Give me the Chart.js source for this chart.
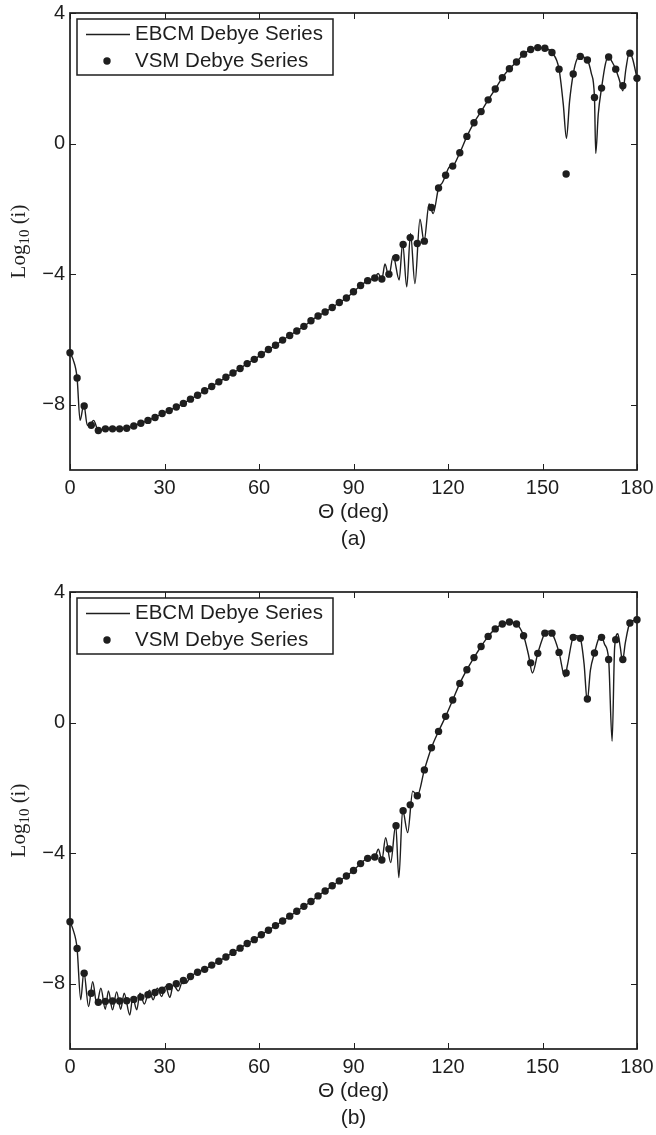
<!DOCTYPE html>
<html>
<head>
<meta charset="utf-8">
<script src="https://cdn.jsdelivr.net/npm/chart.js@4.4.1/dist/chart.umd.min.js"></script>
<style>
  body { margin: 0; background: #fff; width: 656px; height: 1135px; position: relative; overflow: hidden; }
  canvas { position: absolute; left: 0; }
  #chartA { top: 0; }
  #chartB { top: 579px; }
</style>
</head>
<body>
<canvas id="chartA" width="656" height="570"></canvas>
<canvas id="chartB" width="656" height="556"></canvas>
<script>
// labels
const seriesNames = ['EBCM Debye Series', 'VSM Debye Series'];
const xLabel = 'Θ (deg)';
const panelNames = ['(a)', '(b)'];

// tick labels
const thetaTicks = [0, 30, 60, 90, 120, 150, 180];
const logTicks = [-8, -4, 0, 4];

// VSM sample angles (deg), shared by both panels
const vsmTheta = [0, 2.25, 4.5, 6.75, 9, 11.25, 13.5, 15.75, 18, 20.25, 22.5, 24.75, 27, 29.25, 31.5, 33.75,
  36, 38.25, 40.5, 42.75, 45, 47.25, 49.5, 51.75, 54, 56.25, 58.5, 60.75, 63, 65.25, 67.5, 69.75,
  72, 74.25, 76.5, 78.75, 81, 83.25, 85.5, 87.75, 90, 92.25, 94.5, 96.75, 99, 101.25, 103.5, 105.75,
  108, 110.25, 112.5, 114.75, 117, 119.25, 121.5, 123.75, 126, 128.25, 130.5, 132.75, 135, 137.25,
  139.5, 141.75, 144, 146.25, 148.5, 150.75, 153, 155.25, 157.5, 159.75, 162, 164.25, 166.5, 168.75,
  171, 173.25, 175.5, 177.75, 180];

// panel (a) VSM points, log10(i)
const vsmA = [-6.41, -7.18, -8.04, -8.63, -8.79, -8.74, -8.74, -8.74, -8.72, -8.65, -8.57, -8.48, -8.39, -8.27, -8.18, -8.07,
  -7.96, -7.83, -7.71, -7.57, -7.44, -7.30, -7.16, -7.03, -6.89, -6.74, -6.61, -6.46, -6.31, -6.18, -6.02, -5.88,
  -5.74, -5.60, -5.43, -5.28, -5.16, -5.02, -4.87, -4.73, -4.54, -4.35, -4.20, -4.12, -4.15, -4.00, -3.50, -3.09,
  -2.88, -3.06, -2.99, -1.96, -1.36, -0.97, -0.69, -0.28, 0.22, 0.64, 0.98, 1.34, 1.67, 2.02,
  2.29, 2.50, 2.74, 2.88, 2.94, 2.92, 2.79, 2.28, -0.93, 2.13, 2.67, 2.56, 1.41, 1.70,
  2.65, 2.28, 1.77, 2.77, 2.00];

// panel (a) EBCM curve
const ebcmThetaA = [0, 1, 2.25, 3.2, 4.4, 5.5, 6.5, 7.5, 9, 11.25, 13.5, 15.75, 18, 20.25, 22.5, 24.75, 27, 29.25,
  31.5, 33.75, 36, 38.25, 40.5, 42.75, 45, 47.25, 49.5, 51.75, 54, 56.25, 58.5, 60.75, 63, 65.25, 67.5, 69.75,
  72, 74.25, 76.5, 78.75, 81, 83.25, 85.5, 87.75, 90, 92.25, 94.5, 96.75, 97.8, 99, 100, 101.2, 102.6, 104.5,
  105.6, 106.9, 108.1, 109.5, 111.1, 112.4, 114, 115.3, 117, 118.2, 119.25, 120.4, 121.5, 123.75, 126, 128.25,
  130.5, 132.75, 135, 137.25, 139.5, 141.75, 144, 146.25, 148.5, 150.75, 153, 155.25, 156.6, 157.6, 158.6, 159.75,
  161, 162, 164.25, 165.5, 166.5, 166.9, 167.7, 168.75, 170, 171, 172.1, 173.25, 174.4, 175.5, 176.5, 177.6, 178.6, 180];
const ebcmA = [-6.41, -6.62, -7.18, -8.48, -7.99, -8.63, -8.60, -8.48, -8.79, -8.74, -8.74, -8.74, -8.72, -8.65, -8.57, -8.48, -8.39, -8.27,
  -8.18, -8.07, -7.96, -7.83, -7.71, -7.57, -7.44, -7.30, -7.16, -7.03, -6.89, -6.74, -6.61, -6.46, -6.31, -6.18, -6.02, -5.88,
  -5.74, -5.60, -5.43, -5.28, -5.16, -5.02, -4.87, -4.73, -4.54, -4.35, -4.20, -4.12, -3.98, -4.15, -3.69, -4.08, -3.44, -4.18,
  -3.05, -4.39, -2.75, -4.29, -2.32, -3.00, -1.85, -2.14, -1.36, -1.20, -0.97, -0.72, -0.69, -0.28, 0.22, 0.64,
  0.98, 1.34, 1.67, 2.02, 2.29, 2.50, 2.74, 2.88, 2.94, 2.92, 2.79, 2.28, 1.20, 0.16, 1.30, 2.13,
  2.60, 2.67, 2.56, 2.15, 1.41, -0.30, 0.90, 1.70, 2.45, 2.67, 2.50, 2.28, 1.95, 1.62, 2.30, 2.80, 2.60, 2.00];

// panel (b) VSM points
const vsmB = [-6.10, -6.92, -7.68, -8.29, -8.57, -8.54, -8.53, -8.53, -8.52, -8.48, -8.41, -8.34, -8.27, -8.20, -8.09, -8.00,
  -7.90, -7.78, -7.65, -7.56, -7.43, -7.31, -7.18, -7.04, -6.91, -6.77, -6.65, -6.50, -6.36, -6.22, -6.08, -5.93,
  -5.78, -5.63, -5.48, -5.31, -5.16, -5.00, -4.85, -4.70, -4.53, -4.32, -4.16, -4.12, -4.21, -3.87, -3.16, -2.70,
  -2.52, -2.24, -1.45, -0.77, -0.27, 0.19, 0.69, 1.20, 1.62, 1.99, 2.33, 2.64, 2.87, 3.02,
  3.08, 3.02, 2.66, 1.83, 2.12, 2.74, 2.74, 2.15, 1.52, 2.61, 2.58, 0.72, 2.13, 2.61,
  1.93, 2.54, 1.93, 3.05, 3.15];

// panel (b) EBCM curve
const ebcmThetaB = [0, 1, 2.25, 3.4, 4.4, 5.9, 7.2, 8.5, 9.8, 11.2, 12.2, 13.5, 14.8, 16.1, 17.2, 19, 19.9, 21.2,
  22.2, 23.6, 25.2, 26.4, 27.7, 29.1, 30.3, 31.7, 32.8, 34.4, 35.8, 36.8, 38.25, 40.5, 42.75, 45, 47.25, 49.5,
  51.75, 54, 56.25, 58.5, 60.75, 63, 65.25, 67.5, 69.75, 72, 74.25, 76.5, 78.75, 81, 83.25, 85.5, 87.75, 90,
  92.25, 94.5, 96.75, 97.9, 99, 100.2, 101.8, 103.4, 104.4, 105.6, 107.2, 108.8, 110.25, 112.5, 114.75, 117,
  119.25, 121.5, 123.75, 126, 128.25, 130.5, 132.75, 135, 137.25, 139.5, 141.75, 144, 145.5, 146.8, 148.5, 150.75,
  151.9, 153, 155.25, 157.1, 157.9, 159.75, 160.9, 162, 163.2, 164.2, 165.2, 166.5, 168, 168.75, 169.7, 171,
  172.1, 172.9, 173.9, 174.7, 175.4, 176.3, 177.75, 180];
const ebcmB = [-6.10, -6.35, -6.92, -8.49, -7.64, -8.70, -7.94, -8.62, -8.14, -8.78, -8.22, -8.80, -8.25, -8.78, -8.29, -8.96, -8.42, -8.80,
  -8.29, -8.62, -8.20, -8.49, -8.14, -8.39, -8.08, -8.42, -8.03, -8.22, -7.91, -7.98, -7.78, -7.65, -7.56, -7.43, -7.31, -7.18,
  -7.04, -6.91, -6.77, -6.65, -6.50, -6.36, -6.22, -6.08, -5.93, -5.78, -5.63, -5.48, -5.31, -5.16, -5.00, -4.85, -4.70, -4.53,
  -4.32, -4.16, -4.12, -3.88, -4.21, -3.53, -4.29, -3.14, -4.75, -2.68, -3.37, -2.10, -2.24, -1.45, -0.77, -0.27,
  0.19, 0.69, 1.20, 1.62, 1.99, 2.33, 2.64, 2.87, 3.02, 3.08, 3.02, 2.66, 2.10, 1.52, 2.12, 2.74,
  2.80, 2.74, 2.15, 1.40, 1.75, 2.61, 2.66, 2.58, 1.80, 0.65, 1.60, 2.13, 2.60, 2.63, 2.40, 1.93,
  -0.57, 2.30, 2.72, 2.30, 1.88, 2.45, 3.05, 3.15];

const ink = '#1e1e1e';
const sans = 'Liberation Sans';

function toPoints(xs, ys) {
  return xs.map((x, i) => ({x: x, y: ys[i]}));
}

// draws the box, the inward ticks, the legend and the y label (matlab look)
const matlabAxes = {
  id: 'matlabAxes',
  afterDraw(chart) {
    const {ctx, chartArea: a, scales: {x, y}} = chart;
    ctx.save();
    ctx.strokeStyle = ink;
    ctx.lineWidth = 1;
    ctx.beginPath();
    x.ticks.forEach(t => {
      const px = Math.round(x.getPixelForValue(t.value)) + 0.5;
      ctx.moveTo(px, a.bottom); ctx.lineTo(px, a.bottom - 6);
      ctx.moveTo(px, a.top); ctx.lineTo(px, a.top + 6);
    });
    y.ticks.forEach(t => {
      const py = Math.round(y.getPixelForValue(t.value)) + 0.5;
      ctx.moveTo(a.left, py); ctx.lineTo(a.left + 6, py);
      ctx.moveTo(a.right, py); ctx.lineTo(a.right - 6, py);
    });
    ctx.stroke();
    ctx.lineWidth = 1.7;
    ctx.strokeRect(a.left, a.top, a.right - a.left, a.bottom - a.top);

    // legend box
    const ds = chart.data.datasets;
    const lx = a.left + 7, ly = a.top + 6;
    ctx.fillStyle = '#fff';
    ctx.fillRect(lx, ly, 256, 56);
    ctx.lineWidth = 1.5;
    ctx.strokeRect(lx, ly, 256, 56);
    const r1 = a.top + 21.5, r2 = a.top + 48;
    ctx.lineWidth = 1.4;
    ctx.beginPath();
    ctx.moveTo(a.left + 16, r1); ctx.lineTo(a.left + 60, r1);
    ctx.stroke();
    ctx.fillStyle = ink;
    ctx.beginPath();
    ctx.arc(a.left + 37, r2, 3.7, 0, Math.PI * 2);
    ctx.fill();
    ctx.font = '20.5px "' + sans + '"';
    ctx.textBaseline = 'middle';
    ctx.textAlign = 'left';
    ctx.fillText(ds[0].label, a.left + 65, r1);
    ctx.fillText(ds[1].label, a.left + 65, r2);

    // y axis label Log10 (i), with subscript
    ctx.translate(18, (a.top + a.bottom) / 2);
    ctx.rotate(-Math.PI / 2);
    ctx.textBaseline = 'alphabetic';
    const big = '21px "Liberation Serif"', small = '15px "Liberation Serif"';
    ctx.font = big;
    const w1 = ctx.measureText('Log').width;
    const w3 = ctx.measureText(' (i)').width;
    ctx.font = small;
    const w2 = ctx.measureText('10').width;
    let sx = -(w1 + w2 + w3) / 2;
    ctx.font = big;
    ctx.fillText('Log', sx, 7);
    ctx.font = small;
    ctx.fillText('10', sx + w1, 11);
    ctx.font = big;
    ctx.fillText(' (i)', sx + w1 + w2, 7);
    ctx.restore();
  }
};

function makeChart(id, panel, lineTheta, lineVals, dotVals, titleGap) {
  const canvas = document.getElementById(id);
  return new Chart(canvas, {
    type: 'scatter',
    data: {
      datasets: [
        {
          label: seriesNames[0],
          data: toPoints(lineTheta, lineVals),
          showLine: true,
          pointRadius: 0,
          borderColor: ink,
          borderWidth: 1.4,
          cubicInterpolationMode: 'monotone',
          order: 1
        },
        {
          label: seriesNames[1],
          data: toPoints(vsmTheta, dotVals),
          showLine: false,
          pointRadius: 3.7,
          backgroundColor: ink,
          borderColor: ink,
          borderWidth: 0,
          clip: false,
          order: 0
        }
      ]
    },
    options: {
      responsive: false,
      animation: false,
      events: [],
      layout: { padding: { top: 13, right: 19, left: 0, bottom: 0 } },
      scales: {
        x: {
          type: 'linear',
          min: 0,
          max: 180,
          afterBuildTicks: s => { s.ticks = thetaTicks.map(v => ({value: v})); },
          afterFit: s => { s.height = s.chart.height - 470; s.paddingLeft = 0; s.paddingRight = 0; },
          grid: { display: false, drawTicks: false },
          border: { display: false },
          ticks: { padding: 6, autoSkip: false, maxRotation: 0, color: ink, font: { family: sans, size: 20 } },
          title: {
            display: true,
            text: [xLabel, panel],
            color: ink,
            font: { family: sans, size: 21, lineHeight: 1.3 },
            padding: { top: 0, bottom: titleGap }
          }
        },
        y: {
          type: 'linear',
          min: -10,
          max: 4,
          afterBuildTicks: s => { s.ticks = logTicks.map(v => ({value: v})); },
          afterFit: s => { s.width = 70; s.paddingTop = 0; s.paddingBottom = 0; },
          grid: { display: false, drawTicks: false },
          border: { display: false },
          ticks: {
            padding: 5,
            color: ink,
            font: { family: sans, size: 20 },
            callback: v => (v < 0 ? '\u2212' + Math.abs(v) : String(v))
          }
        }
      },
      plugins: { legend: { display: false }, tooltip: { enabled: false } }
    },
    plugins: [matlabAxes]
  });
}

const chartA = makeChart('chartA', panelNames[0], ebcmThetaA, ebcmA, vsmA, 17);
const chartB = makeChart('chartB', panelNames[1], ebcmThetaB, ebcmB, vsmB, 3);
</script>
</body>
</html>
